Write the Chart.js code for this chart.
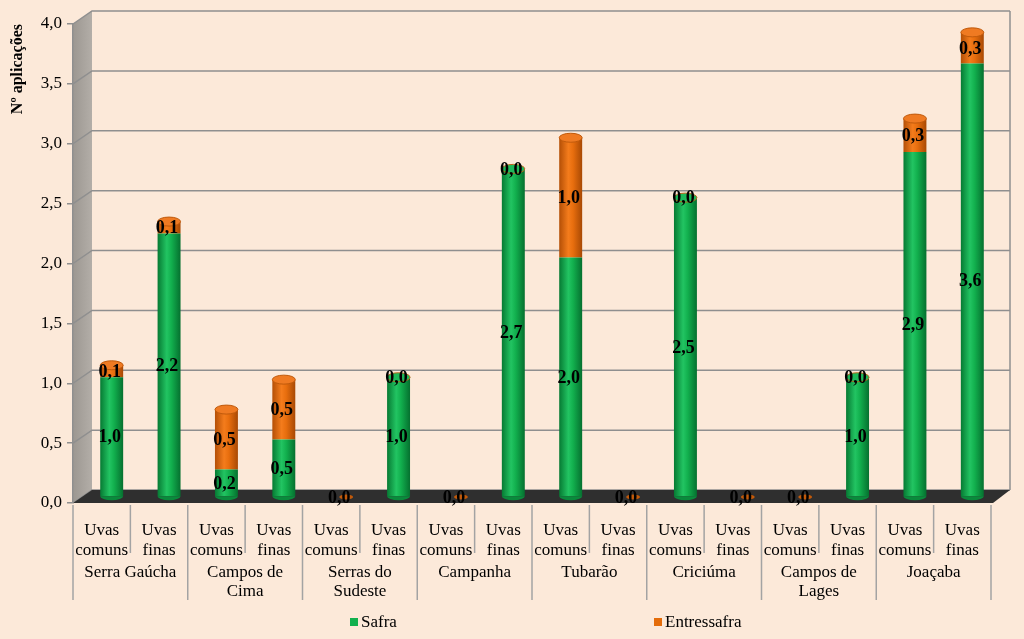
<!DOCTYPE html>
<html>
<head>
<meta charset="utf-8">
<script src="https://cdn.jsdelivr.net/npm/chart.js@4"></script>
<style>
  html, body { margin: 0; padding: 0; background: #FCE9D9; }
  #wrap { width: 1024px; height: 639px; }
</style>
</head>
<body>
<div id="wrap"><canvas id="chart" width="1024" height="639"></canvas></div>
<script>
// regions and grape types (two-level x axis)
const regions = ['Serra Gaúcha', ['Campos de', 'Cima'], ['Serras do', 'Sudeste'], 'Campanha',
                 'Tubarão', 'Criciúma', ['Campos de', 'Lages'], 'Joaçaba'];
const grapeTypes = [['Uvas', 'comuns'], ['Uvas', 'finas']];

// nº de aplicações
const safra =       [1.0, 2.2, 0.23, 0.48, 0, 1.0, 0, 2.74, 2.0, 0, 2.5, 0, 0, 1.0, 2.88, 3.62];
const entressafra = [0.1, 0.1, 0.5,  0.5,  0, 0,   0, 0,    1.0, 0, 0,   0, 0, 0,   0.28, 0.26];

const yTicks = [0, 0.5, 1, 1.5, 2, 2.5, 3, 3.5, 4];

const BG = '#FCE9D9';
const FONT = "'Liberation Serif', 'Times New Roman', serif";
const DEPTH_X = 19, DEPTH_Y = 13;   // 3d wall depth
const BAR_DX = 10, BAR_DY = 6;      // bars sit half way back

const categories = [];
regions.forEach(() => grapeTypes.forEach(t => categories.push(t)));

const fmt = v => v.toFixed(1).replace('.', ',');

function barGradient(ctx, stops) {
    const chart = ctx.chart;
    const area = chart.chartArea;
    if (!area) return stops[1];
    const xs = chart.scales.x;
    const cx = xs.getPixelForValue(ctx.dataIndex);
    const w = (area.width / categories.length) * 0.4;
    const g = chart.ctx.createLinearGradient(cx - w / 2, 0, cx + w / 2, 0);
    g.addColorStop(0, stops[0]);
    g.addColorStop(0.4, stops[1]);
    g.addColorStop(0.6, stops[2]);
    g.addColorStop(1, stops[3]);
    return g;
}

const GREEN = ['#067a33', '#22c462', '#12b04e', '#05702f'];
const ORANGE = ['#b44f06', '#f47c1c', '#e86e0e', '#a84904'];

const walls = {
    id: 'walls',
    beforeDraw(chart) {
        const { ctx, chartArea: a, scales: { y } } = chart;
        ctx.save();
        ctx.fillStyle = BG;
        ctx.fillRect(0, 0, chart.width, chart.height);

        // side wall
        const sg = ctx.createLinearGradient(a.left, 0, a.left + DEPTH_X, 0);
        sg.addColorStop(0, '#9c9791');
        sg.addColorStop(1, '#b3aea8');
        ctx.fillStyle = sg;
        ctx.beginPath();
        ctx.moveTo(a.left, a.bottom);
        ctx.lineTo(a.left, a.top);
        ctx.lineTo(a.left + DEPTH_X, a.top - DEPTH_Y);
        ctx.lineTo(a.left + DEPTH_X, a.bottom - DEPTH_Y);
        ctx.closePath();
        ctx.fill();

        // back wall edges + gridlines
        ctx.strokeStyle = '#8f8f8f';
        ctx.lineWidth = 1.5;
        yTicks.forEach(v => {
            const py = y.getPixelForValue(v);
            ctx.beginPath();
            ctx.moveTo(a.left, py);
            ctx.lineTo(a.left + DEPTH_X, py - DEPTH_Y);
            ctx.lineTo(a.right + DEPTH_X, py - DEPTH_Y);
            ctx.stroke();
        });
        ctx.beginPath();
        ctx.moveTo(a.right + DEPTH_X, a.top - DEPTH_Y);
        ctx.lineTo(a.right + DEPTH_X, a.bottom - DEPTH_Y);
        ctx.stroke();

        // floor
        ctx.fillStyle = '#2f2f2f';
        ctx.beginPath();
        ctx.moveTo(a.left, a.bottom);
        ctx.lineTo(a.left + DEPTH_X, a.bottom - DEPTH_Y);
        ctx.lineTo(a.right + DEPTH_X, a.bottom - DEPTH_Y);
        ctx.lineTo(a.right + 2, a.bottom);
        ctx.closePath();
        ctx.fill();
        ctx.restore();
    },
    beforeDatasetsDraw(chart) {
        chart.ctx.save();
        chart.ctx.translate(BAR_DX, -BAR_DY);
    },
    afterDatasetsDraw(chart) {
        const ctx = chart.ctx;
        const low = chart.getDatasetMeta(0).data;
        const high = chart.getDatasetMeta(1).data;

        // cylinder caps
        low.forEach((bar, i) => {
            const top = high[i];
            const rx = bar.width / 2;
            ctx.fillStyle = '#0a8a3c';
            if (safra[i] > 0) {
                ctx.beginPath();
                ctx.ellipse(bar.x, bar.base, rx, 4, 0, 0, Math.PI);
                ctx.fill();
            }
            const total = safra[i] + entressafra[i];
            ctx.beginPath();
            if (total === 0) {
                ctx.fillStyle = '#c25a0a';
                ctx.ellipse(top.x + 5, top.y, rx * 0.6, 2.5, 0, 0, Math.PI * 2);
                ctx.fill();
                return;
            }
            ctx.fillStyle = entressafra[i] > 0 ? '#ef7a22' : '#1eb95a';
            ctx.strokeStyle = entressafra[i] > 0 ? '#c05a0c' : '#b9651b';
            ctx.lineWidth = 1;
            ctx.ellipse(top.x, top.y, rx, 4.5, 0, 0, Math.PI * 2);
            ctx.fill();
            ctx.stroke();
        });

        // value labels
        ctx.font = 'bold 18px ' + FONT;
        ctx.fillStyle = '#000';
        ctx.textAlign = 'center';
        ctx.textBaseline = 'middle';
        [safra, entressafra].forEach((vals, d) => {
            const meta = chart.getDatasetMeta(d).data;
            vals.forEach((v, i) => {
                const el = meta[i];
                const cy = v > 0 ? (el.y + el.base) / 2 : el.y;
                if (d === 0 && v === 0) return;
                ctx.fillText(fmt(v), el.x - 2, cy + 1);
            });
        });
        ctx.restore();
    },
    afterDraw(chart) {
        const { ctx, chartArea: a, scales: { x } } = chart;
        const n = categories.length;
        const half = (x.getPixelForValue(1) - x.getPixelForValue(0)) / 2;
        ctx.save();
        ctx.strokeStyle = '#a3a3a3';
        ctx.lineWidth = 1.5;
        for (let i = 0; i <= n; i++) {
            const bx = i < n ? x.getPixelForValue(i) - half : x.getPixelForValue(n - 1) + half;
            ctx.beginPath();
            ctx.moveTo(bx, a.bottom + 2);
            ctx.lineTo(bx, i % 2 === 0 ? a.bottom + 97 : a.bottom + 50);
            ctx.stroke();
        }

        // region names
        ctx.font = '17px ' + FONT;
        ctx.fillStyle = '#000';
        ctx.textAlign = 'center';
        ctx.textBaseline = 'middle';
        regions.forEach((r, g) => {
            const cx = (x.getPixelForValue(2 * g) + x.getPixelForValue(2 * g + 1)) / 2;
            const lines = Array.isArray(r) ? r : [r];
            lines.forEach((t, k) => ctx.fillText(t, cx, a.bottom + 70 + k * 19));
        });

        // legend
        const legendX = [350, 654];
        chart.data.datasets.forEach((ds, d) => {
            const lx = legendX[d];
            const ly = 622;
            ctx.fillStyle = d === 0 ? '#12b04e' : '#e46c0a';
            ctx.fillRect(lx, ly - 4, 8, 8);
            ctx.fillStyle = '#000';
            ctx.textAlign = 'left';
            ctx.fillText(ds.label, lx + 11, ly + 1);
        });
        ctx.restore();
    }
};

Chart.defaults.font.family = FONT;
Chart.defaults.font.size = 17;
Chart.defaults.color = '#000';

new Chart(document.getElementById('chart'), {
    type: 'bar',
    data: {
        labels: categories,
        datasets: [
            { label: 'Safra', data: safra, backgroundColor: c => barGradient(c, GREEN) },
            { label: 'Entressafra', data: entressafra, backgroundColor: c => barGradient(c, ORANGE) }
        ]
    },
    options: {
        responsive: false,
        animation: false,
        layout: { padding: { top: 24, right: 33, left: 0, bottom: 0 } },
        datasets: { bar: { categoryPercentage: 0.8, barPercentage: 0.5 } },
        plugins: {
            legend: { display: false },
            tooltip: { enabled: false }
        },
        scales: {
            x: {
                stacked: true,
                grid: { display: false },
                border: { display: false },
                ticks: { padding: 10, maxRotation: 0, autoSkip: false, font: { lineHeight: 1.15 } },
                afterFit: s => { s.height = 136; }
            },
            y: {
                stacked: true,
                min: 0,
                max: 4,
                afterBuildTicks: s => { s.ticks = yTicks.map(v => ({ value: v })); },
                grid: { drawOnChartArea: false, tickLength: 6, color: '#8f8f8f', lineWidth: 1.5 },
                border: { color: '#8f8f8f', width: 1.5 },
                ticks: { padding: 5, callback: v => fmt(v) },
                title: {
                    display: true,
                    text: 'Nº aplicações',
                    align: 'end',
                    font: { weight: 'bold', size: 16 },
                    padding: { top: 8, bottom: 2 }
                },
                afterFit: s => { s.width = 73; }
            }
        }
    },
    plugins: [walls]
});
</script>
</body>
</html>
